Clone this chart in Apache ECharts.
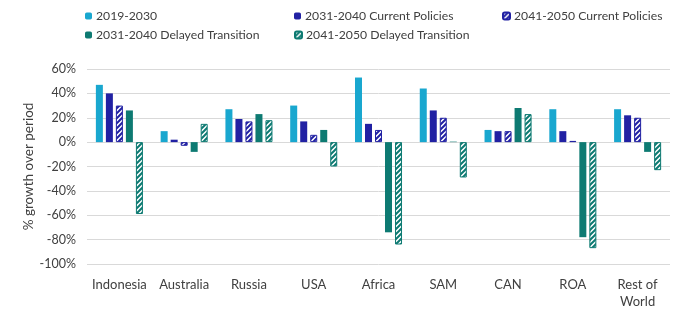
<!DOCTYPE html>
<html>
<head>
<meta charset="utf-8">
<script src="https://cdn.jsdelivr.net/npm/echarts@6/dist/echarts.min.js"></script>
<style>
  html, body { margin: 0; padding: 0; background: #fff; }
  #chart { width: 683px; height: 327px; }
</style>
</head>
<body>
<div id="chart"></div>
<script>
// Regions and growth rates (% growth over each period)
const regions = ['Indonesia', 'Australia', 'Russia', 'USA', 'Africa', 'SAM', 'CAN', 'ROA', 'Rest of World'];
const growth2019_2030 = [47, 9, 27, 30, 53, 44, 10, 27, 27];
const cp2031_2040 = [40, 2, 19, 17, 15, 26, 9, 9, 22];
const cp2041_2050 = [30, -3, 17, 6, 10, 20, 9, 1, 20];
const dt2031_2040 = [26, -8, 23, 10, -74, 0.4, 28, -78, -8];
const dt2041_2050 = [-59, 15, 18, -20, -84, -29, 23, -87, -23];
const yTicks = [-100, -80, -60, -40, -20, 0, 20, 40, 60];

const FONT = 'Lato';
const CYAN = '#19A7CF';
const BLUE = '#2121A3';
const TEAL = '#0D7A72';

// Diagonal hatch fill: white background with "/" stripes
function hatch(color) {
  const size = 5;
  const c = document.createElement('canvas');
  c.width = size; c.height = size;
  const ctx = c.getContext('2d');
  ctx.fillStyle = '#ffffff';
  ctx.fillRect(0, 0, size, size);
  ctx.strokeStyle = color;
  ctx.lineWidth = 2;
  ctx.beginPath();
  ctx.moveTo(-1, size + 1); ctx.lineTo(size + 1, -1);
  ctx.moveTo(-1, 1); ctx.lineTo(1, -1);
  ctx.moveTo(size - 1, size + 1); ctx.lineTo(size + 1, size - 1);
  ctx.stroke();
  return { image: c, repeat: 'repeat' };
}

const seriesDefs = [
  { name: '2019-2030', data: growth2019_2030, style: { color: CYAN } },
  { name: '2031-2040 Current Policies', data: cp2031_2040, style: { color: BLUE } },
  { name: '2041-2050 Current Policies', data: cp2041_2050, style: { color: hatch(BLUE), borderColor: BLUE, borderWidth: 1 } },
  { name: '2031-2040 Delayed Transition', data: dt2031_2040, style: { color: TEAL } },
  { name: '2041-2050 Delayed Transition', data: dt2041_2050, style: { color: hatch(TEAL), borderColor: TEAL, borderWidth: 1 } }
];

// One legend entry per slot to keep the two-row column layout
const legendSlots = [
  { left: 85, top: 10 },
  { left: 294, top: 10 },
  { left: 502, top: 10 },
  { left: 85, top: 29 },
  { left: 294, top: 29 }
];

const chart = echarts.init(document.getElementById('chart'), null, { renderer: 'canvas' });

chart.setOption({
  animation: false,
  textStyle: { fontFamily: FONT },
  legend: seriesDefs.map((s, i) => ({
    data: [s.name],
    left: legendSlots[i].left,
    top: legendSlots[i].top,
    itemWidth: 7,
    itemHeight: 7,
    itemGap: 4,
    padding: 0,
    selectedMode: false,
    textStyle: { fontFamily: FONT, fontSize: 12.2, color: '#404040', padding: [0, 0, 0, -1] }
  })),
  grid: { left: 87, right: 13, top: 69, bottom: 63, containLabel: false },
  xAxis: {
    type: 'category',
    data: regions,
    position: 'bottom',
    axisLine: { show: false },
    axisTick: { show: false },
    axisLabel: {
      interval: 0,
      margin: 12,
      fontFamily: FONT,
      fontSize: 13,
      color: '#404040',
      lineHeight: 17,
      formatter: v => v === 'Rest of World' ? 'Rest of\nWorld' : v
    }
  },
  yAxis: {
    type: 'value',
    min: yTicks[0],
    max: yTicks[yTicks.length - 1],
    interval: 20,
    name: '% growth over period',
    nameLocation: 'middle',
    nameGap: 51,
    nameMoveOverlap: false,
    nameTextStyle: { fontFamily: FONT, fontSize: 13.5, color: '#404040' },
    axisLine: { show: false },
    axisTick: { show: false },
    axisLabel: {
      margin: 11,
      fontFamily: FONT,
      fontSize: 12.5,
      color: '#404040',
      formatter: v => v + '%'
    },
    splitLine: { lineStyle: { color: '#D9D9D9', width: 1 } }
  },
  series: seriesDefs.map(s => ({
    name: s.name,
    type: 'bar',
    data: s.data,
    barWidth: 7,
    barGap: '43%',
    itemStyle: s.style
  }))
});
</script>
</body>
</html>
